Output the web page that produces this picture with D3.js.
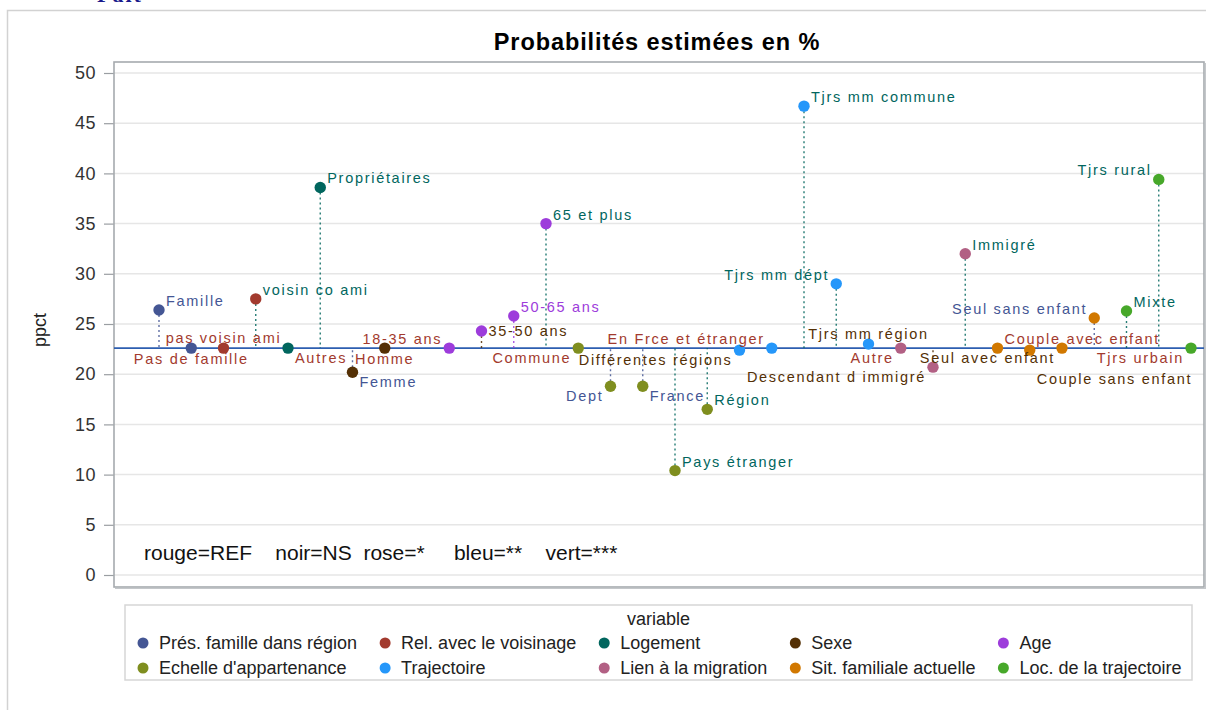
<!DOCTYPE html>
<html>
<head>
<meta charset="utf-8">
<script src="https://cdn.jsdelivr.net/npm/d3@7"></script>
<style>
  html, body { margin: 0; padding: 0; background: #fff; }
  svg { display: block; font-family: "Liberation Sans", Arial, sans-serif; }
</style>
</head>
<body>
<svg id="chart" width="1206" height="710"></svg>
<script>
// ---------------- data ----------------
const groups = [
  "Prés. famille dans région", "Rel. avec le voisinage", "Logement", "Sexe", "Age",
  "Echelle d'appartenance", "Trajectoire", "Lien à la migration", "Sit. familiale actuelle", "Loc. de la trajectoire"
];
const groupColors = ["#445694", "#A23A2E", "#01665E", "#543005", "#9D3CDB",
                     "#7F8E1F", "#2597FA", "#B26084", "#D17800", "#47A82A"];

const categories = [
  "Famille", "Pas de famille",
  "pas voisin ami", "voisin co ami",
  "Autres", "Propriétaires",
  "Femme", "Homme",
  "18-35 ans", "35-50 ans", "50-65 ans", "65 et plus",
  "Commune", "Dept", "France", "Pays étranger", "Région",
  "Différentes régions", "En Frce et étranger", "Tjrs mm commune", "Tjrs mm dépt", "Tjrs mm région",
  "Autre", "Descendant d immigré", "Immigré",
  "Couple avec enfant", "Couple sans enfant", "Seul avec enfant", "Seul sans enfant",
  "Mixte", "Tjrs rural", "Tjrs urbain"
];
const groupIndex = [0,0, 1,1, 2,2, 3,3, 4,4,4,4, 5,5,5,5,5, 6,6,6,6,6, 7,7,7, 8,8,8,8, 9,9,9];
const order = [1,2,3,4,5,6,7,8, 10,11,12,13, 14,15,16,17,18, 19,20,21,22,23, 24,25,26, 27,28,29,30, 31,32,33];
const values = [
  26.4, 22.6,
  22.6, 27.5,
  22.6, 38.6,
  20.2, 22.6,
  22.6, 24.3, 25.8, 35.0,
  22.6, 18.8, 18.8, 10.4, 16.5,
  22.4, 22.6, 46.7, 29.0, 23.0,
  22.6, 20.7, 32.0,
  22.6, 22.4, 22.6, 25.6,
  26.3, 39.4, 22.6
];
const signif = [
  "**", "REF",
  "REF", "***",
  "REF", "***",
  "**", "REF",
  "REF", "NS", "*", "***",
  "REF", "**", "**", "***", "***",
  "NS", "REF", "***", "***", "NS",
  "REF", "NS", "***",
  "REF", "NS", "NS", "**",
  "***", "***", "REF"
];
const refValue = 22.6;
const yTicks = [0, 5, 10, 15, 20, 25, 30, 35, 40, 45, 50];
const titleText = "Probabilités estimées en %";
const yLabel = "ppct";
const noteText = "rouge=REF    noir=NS  rose=*     bleu=**    vert=***";
const legendTitle = "variable";

// ---------------- styles / layout ----------------
const signifColor = { "REF": "#A23A2E", "NS": "#543005", "*": "#9D3CDB", "**": "#445694", "***": "#01665E" };
// label placement (position styling, not data): [dx, dy, anchor]
const P = {
  NE: [7, -9, "start"], E: [7, 0, "start"], SE: [7, 10, "start"],
  N: [0, -10, "middle"], S: [0, 11, "middle"],
  NW: [-7, -9, "end"], SW: [-7, 10, "end"], SEfar: [7, 29, "start"]
};
const labelPlace = [
  "NE", "S", "N", "NE", "SE", "NE", "SE", "S",
  "NW", "E", "NE", "NE",
  "SW", "SW", "SE", "NE", "NE",
  "SW", "NW", "NE", "NW", "N",
  "SW", "SW", "NE",
  "NE", "SEfar", "SW", "NW",
  "NE", "NW", "SW"
];

const svg = d3.select("#chart");
const plot = { left: 114, right: 1204, top: 62, bottom: 587 };

// top cut-off link text
svg.append("text").attr("x", 97).attr("y", 2)
  .attr("font-family", "Liberation Serif, serif").attr("font-size", 22).attr("font-weight", "bold")
  .attr("fill", "#1a1a8c").style("letter-spacing", "2px").text("Fait");

// outer frame
svg.append("rect").attr("x", 7.5).attr("y", 10.5).attr("width", 1220).attr("height", 730)
  .attr("fill", "none").attr("stroke", "#d2d2d2").attr("stroke-width", 1.5);

const x = d3.scaleLinear().domain([1, 33]).range([159, 1191]);
const y = d3.scaleLinear().domain([0, 50]).range([575, 73]);

// gridlines
svg.append("g").selectAll("line").data(yTicks).join("line")
  .attr("x1", plot.left).attr("x2", plot.right)
  .attr("y1", d => y(d)).attr("y2", d => y(d))
  .attr("stroke", "#e6e6e6").attr("stroke-width", 1.5);

// y axis
const yAxis = d3.axisLeft(y).tickValues(yTicks).tickSize(10).tickPadding(8);
const gy = svg.append("g").attr("transform", `translate(${plot.left},0)`).call(yAxis);
gy.select(".domain").remove();
gy.selectAll(".tick line").attr("stroke", "#9a9ea2").attr("stroke-width", 1.2);
gy.selectAll(".tick text").attr("font-size", 18).attr("fill", "#333")
  .attr("font-family", "Liberation Sans, Arial, sans-serif").style("letter-spacing", "0.5px");

// plot frame
svg.append("rect").attr("x", plot.left).attr("y", plot.top)
  .attr("width", plot.right - plot.left).attr("height", plot.bottom - plot.top)
  .attr("fill", "none").attr("stroke", "#a6aaae").attr("stroke-width", 1.6);
svg.append("line").attr("x1", plot.right + 1.5).attr("x2", plot.right + 1.5)
  .attr("y1", plot.top + 1).attr("y2", plot.bottom + 1.5)
  .attr("stroke", "#c4c7ca").attr("stroke-width", 1.2);
svg.append("line").attr("x1", plot.left + 1).attr("x2", plot.right + 2)
  .attr("y1", plot.bottom + 1.5).attr("y2", plot.bottom + 1.5)
  .attr("stroke", "#c4c7ca").attr("stroke-width", 1.2);

// title
svg.append("text").attr("x", 657).attr("y", 50).attr("text-anchor", "middle")
  .attr("font-size", 23.5).attr("font-weight", "bold").attr("fill", "#000")
  .style("letter-spacing", "0.9px").text(titleText);

// y label
svg.append("text").attr("transform", `translate(46,330) rotate(-90)`).attr("text-anchor", "middle")
  .attr("font-size", 18).attr("fill", "#222").text(yLabel);

// reference line
svg.append("line").attr("x1", plot.left).attr("x2", plot.right)
  .attr("y1", y(refValue)).attr("y2", y(refValue))
  .attr("stroke", "#2d5eb0").attr("stroke-width", 1.6);

const pts = categories.map((c, i) => ({
  label: c, x: x(order[i]), y: y(values[i]), v: values[i],
  color: groupColors[groupIndex[i]], lc: signifColor[signif[i]], place: P[labelPlace[i]]
}));

// drop lines
svg.append("g").selectAll("line").data(pts.filter(d => Math.abs(d.v - refValue) > 0.05)).join("line")
  .attr("x1", d => d.x).attr("x2", d => d.x)
  .attr("y1", d => d.y).attr("y2", y(refValue))
  .attr("stroke", d => d.lc).attr("stroke-width", 1.4).attr("stroke-dasharray", "2,3")
  .attr("opacity", 0.85);

// markers
svg.append("g").selectAll("circle").data(pts).join("circle")
  .attr("cx", d => d.x).attr("cy", d => d.y).attr("r", 5.7)
  .attr("fill", d => d.color);

// labels
svg.append("g").selectAll("text").data(pts).join("text")
  .attr("x", d => d.x + d.place[0]).attr("y", d => d.y + d.place[1])
  .attr("text-anchor", d => d.place[2]).attr("dominant-baseline", "central")
  .attr("font-size", 14.5).attr("fill", d => d.lc)
  .style("letter-spacing", "1.7px").text(d => d.label);

// note
svg.append("text").attr("x", 144).attr("y", 560).attr("font-size", 21).attr("fill", "#111")
  .style("white-space", "pre").attr("xml:space", "preserve").text(noteText);

// legend
const lg = { left: 125, right: 1192, top: 605, bottom: 680 };
svg.append("rect").attr("x", lg.left).attr("y", lg.top)
  .attr("width", lg.right - lg.left).attr("height", lg.bottom - lg.top)
  .attr("fill", "none").attr("stroke", "#d6d6d6").attr("stroke-width", 1.5);
svg.append("text").attr("x", (lg.left + lg.right) / 2).attr("y", 625).attr("text-anchor", "middle")
  .attr("font-size", 18).attr("fill", "#222").text(legendTitle);

const nCols = 5, rowY = [643, 668];
const legG = svg.append("g");
const items = groups.map((g, i) => ({ g, i, col: i % nCols, row: Math.floor(i / nCols) }));
const texts = legG.selectAll("text").data(items).join("text")
  .attr("font-size", 18).attr("fill", "#222").attr("dominant-baseline", "central")
  .attr("y", d => rowY[d.row]).text(d => d.g);
const colW = d3.range(nCols).map(c => d3.max(texts.filter(d => d.col === c).nodes(), n => n.getComputedTextLength()));
const colX = [];
let cx = 143;
for (let c = 0; c < nCols; c++) { colX.push(cx); cx += 16 + colW[c] + 28; }
texts.attr("x", d => colX[d.col] + 16);
legG.selectAll("circle").data(items).join("circle")
  .attr("cx", d => colX[d.col]).attr("cy", d => rowY[d.row]).attr("r", 5.5)
  .attr("fill", d => groupColors[d.i]);
</script>
</body>
</html>
